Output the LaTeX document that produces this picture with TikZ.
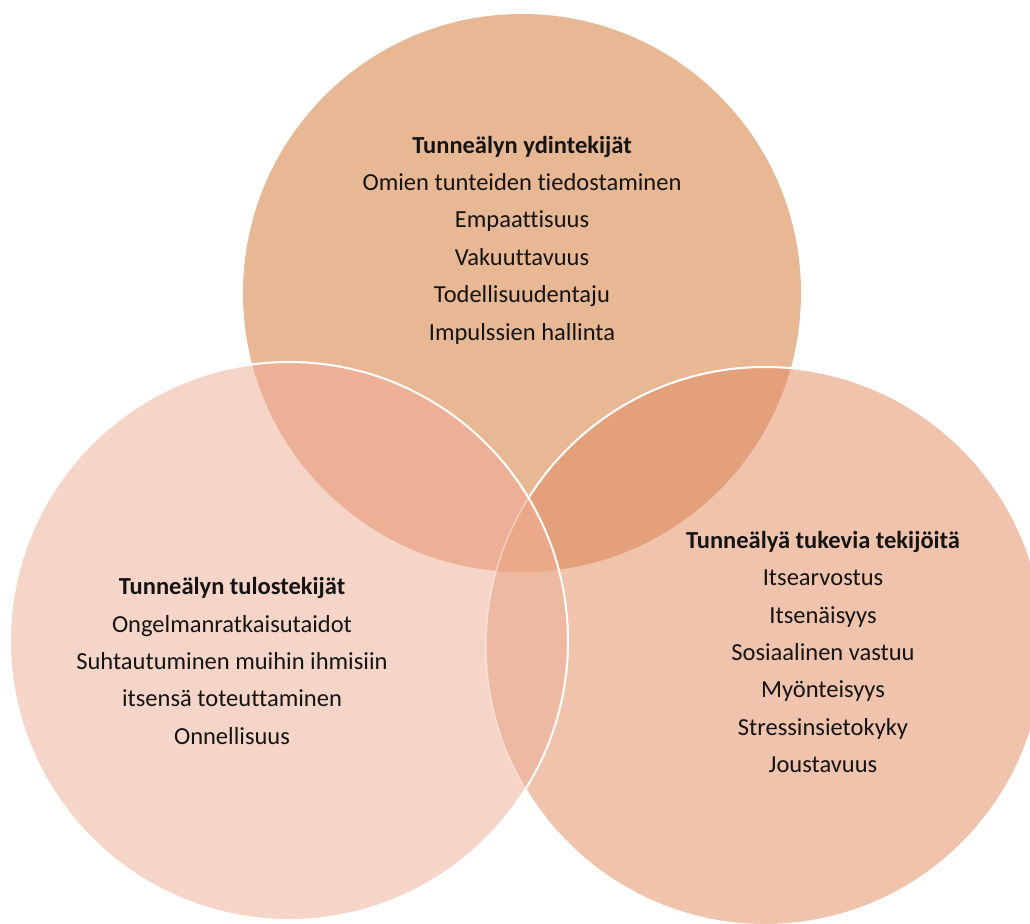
\documentclass[tikz,border=0pt]{standalone}
\usepackage{fontspec}
\setmainfont{Carlito}[Ligatures=NoCommon]
\definecolor{ctop}{HTML}{E8B794}
\definecolor{cleft}{HTML}{F5D5C8}
\definecolor{cright}{HTML}{F0C3AD}
\definecolor{ctl}{HTML}{EDB097}
\definecolor{ctr}{HTML}{E4A07A}
\definecolor{clr}{HTML}{EEB9A2}
\definecolor{call}{HTML}{EBA98A}
\definecolor{txt}{HTML}{141414}
\tikzset{
  label text/.style={align=center, text=txt, inner sep=0pt, font=\fontsize{24.5}{37.4}\selectfont},
  outline/.style={draw=white, line width=2pt},
}
\begin{document}
\begin{tikzpicture}[x=1pt,y=-1pt]
\useasboundingbox (0,0) rectangle (1030,923);
\coordinate (T) at (522,293);
\coordinate (L) at (289,641);
\coordinate (Rc) at (765,646);
\def\rad{279pt}
% single regions
\fill[ctop] (T) circle[radius=\rad];
\fill[cleft] (L) circle[radius=\rad];
\fill[cright] (Rc) circle[radius=\rad];
% left-right overlap
\begin{scope}
  \clip (L) circle[radius=\rad];
  \fill[clr] (Rc) circle[radius=\rad];
\end{scope}
% overlaps with top
\begin{scope}
  \clip (T) circle[radius=\rad];
  \fill[ctl] (L) circle[radius=\rad];
  \fill[ctr] (Rc) circle[radius=\rad];
  \clip (L) circle[radius=\rad];
  \fill[call] (Rc) circle[radius=\rad];
\end{scope}
% outlines
\draw[draw=white, line width=1.5pt, draw opacity=0.45] (Rc) circle[radius=\rad];
\begin{scope}[even odd rule]
  \clip (-10,-10) rectangle (1040,933) (L) circle[radius=\rad];
  \draw[outline] (Rc) circle[radius=\rad];
\end{scope}
\draw[outline] (L) circle[radius=\rad];
% texts
\node[label text] (ttop) at (522,240) {\textbf{Tunneälyn ydintekijät}\\Omien tunteiden tiedostaminen\\Empaattisuus\\Vakuuttavuus\\Todellisuudentaju\\Impulssien hallinta};
\node[label text] (tleft) at (232,661) {\textbf{Tunneälyn tulostekijät}\\Ongelmanratkaisutaidot\\Suhtautuminen muihin ihmisiin\\itsensä toteuttaminen\\Onnellisuus};
\node[label text] (tright) at (823,652) {\textbf{Tunneälyä tukevia tekijöitä}\\Itsearvostus\\Itsenäisyys\\Sosiaalinen vastuu\\Myönteisyys\\Stressinsietokyky\\Joustavuus};
\end{tikzpicture}
\end{document}
